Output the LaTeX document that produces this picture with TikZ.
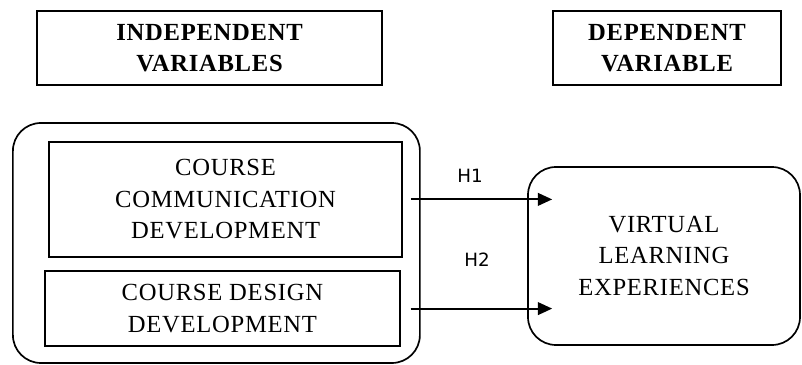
\documentclass[tikz,border=0pt]{standalone}
\usepackage{fontspec}
\setmainfont{Liberation Serif}[LetterSpace=3]
\newfontfamily\hfont{DejaVu Sans}
\usetikzlibrary{arrows.meta,positioning}

\begin{document}
\begin{tikzpicture}[x=1cm,y=1cm]
\tikzset{
  headbox/.style={rectangle,draw,line width=1.2pt,minimum height=1.85cm,align=center,
    font=\fontsize{17.5}{22.5}\selectfont\bfseries},
  varbox/.style={rectangle,draw,line width=1.2pt,align=center,
    font=\fontsize{17.5}{22.5}\selectfont},
  roundbox/.style={rectangle,rounded corners=0.7cm,draw,line width=1.2pt,align=center,
    font=\fontsize{17.5}{22.5}\selectfont},
  hyparrow/.style={-{Triangle[length=3.6mm,width=3.2mm]},line width=1.3pt},
  hyplabel/.style={font=\hfont\fontsize{13}{15}\selectfont,inner sep=0pt}
}
\useasboundingbox (0,0) rectangle (20.05,9.125);
\node[headbox,minimum width=8.625cm] (n_iv) at (5.24,7.925) {INDEPENDENT\\VARIABLES};
\node[headbox,minimum width=5.7cm] (n_dv) at (16.675,7.925) {DEPENDENT\\VARIABLE};
\node[roundbox,minimum width=10.175cm,minimum height=6cm] (n_outer) at (5.41,3.05) {};
\node[varbox,minimum width=8.825cm,minimum height=2.875cm] (n_comm) at (5.64,4.14) {COURSE\\COMMUNICATION\\DEVELOPMENT};
\node[varbox,minimum width=8.875cm,minimum height=1.875cm] (n_design) at (5.56,1.41) {COURSE DESIGN\\DEVELOPMENT};
\node[roundbox,minimum width=6.8cm,minimum height=4.45cm] (n_vle) at (16.6,2.725) {VIRTUAL\\LEARNING\\EXPERIENCES};
\node[hyplabel] (n_h1) at (11.75,4.725) {H1};
\node[hyplabel] (n_h2) at (11.925,2.625) {H2};
\draw[hyparrow] ([xshift=2mm]n_comm.east) -- ([xshift=6.25mm]n_comm.east -| n_vle.west);
\draw[hyparrow] ([xshift=2.5mm]n_design.east) -- ([xshift=6.25mm]n_design.east -| n_vle.west);
\end{tikzpicture}
\end{document}
